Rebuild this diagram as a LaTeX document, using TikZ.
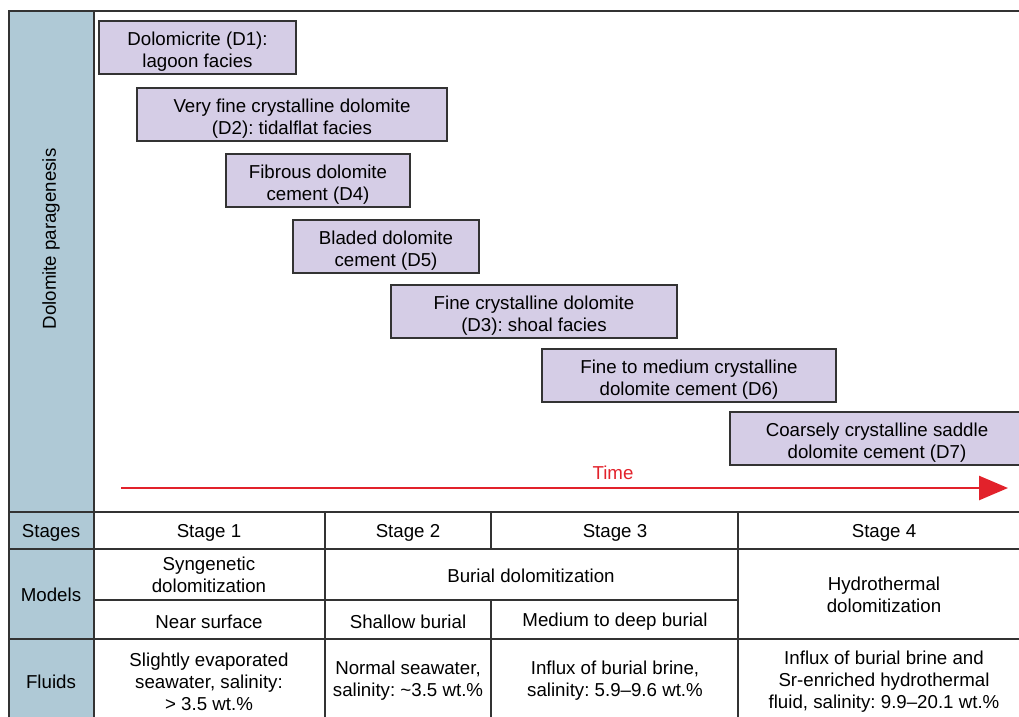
\documentclass[tikz,border=0pt]{standalone}
\usepackage{fontspec}
\setmainfont{Liberation Sans}
\frenchspacing
\usetikzlibrary{arrows.meta}
\definecolor{pbox}{HTML}{D5CDE6}
\definecolor{lblue}{HTML}{AFC9D6}
\definecolor{lgray}{HTML}{333333}
\definecolor{tred}{HTML}{E2222B}
\newcommand{\bxstrut}{\rule{0pt}{21pt}}
\tikzset{
  every node/.style={font=\fontsize{18.7}{22}\selectfont, text=black, inner sep=0pt},
  dbox/.style={draw=lgray, fill=pbox, line width=1.2pt, align=center, minimum height=53},
  cell/.style={align=center},
  grid/.style={draw=lgray, line width=1.3pt},
  frame/.style={draw=lgray, line width=2pt},
}
\begin{document}
\begin{tikzpicture}[x=1pt,y=-1pt]
\useasboundingbox (0,0) rectangle (1019,716);
\clip (0,0) rectangle (1019,716);
% left column
\fill[lblue] (9,11) rectangle (94,730);
% frame and grid
\draw[frame] (1040,11) -- (9,11) -- (9,730);
\draw[grid] (94,11) -- (94,730);
\draw[grid] (9,512) -- (1040,512);
\draw[grid] (9,549) -- (1040,549);
\draw[grid] (94,600) -- (738,600);
\draw[grid] (9,639) -- (1040,639);
\draw[grid] (325,512) -- (325,730);
\draw[grid] (491,512) -- (491,549);
\draw[grid] (491,600) -- (491,730);
\draw[grid] (738,512) -- (738,730);
% left labels
\node[rotate=90] (dp) at (51,239) {Dolomite paragenesis};
\node (stg) at (51,533) {Stages};
\node (mod) at (51,595) {Models};
\node (flu) at (51,682) {Fluids};
% dolomite boxes
\node[dbox, minimum width=197] (d1) at (197.5,47.5) {\bxstrut Dolomicrite (D1):\\lagoon facies};
\node[dbox, minimum width=310] (d2) at (292,114.5) {\bxstrut Very fine crystalline dolomite\\(D2): tidalflat facies};
\node[dbox, minimum width=184] (d4) at (318,180.5) {\bxstrut Fibrous dolomite\\cement (D4)};
\node[dbox, minimum width=186] (d5) at (386,246.5) {\bxstrut Bladed dolomite\\cement (D5)};
\node[dbox, minimum width=286] (d3) at (534,311.5) {\bxstrut Fine crystalline dolomite\\(D3): shoal facies};
\node[dbox, minimum width=294] (d6) at (689,375.5) {\bxstrut Fine to medium crystalline\\dolomite cement (D6)};
\node[dbox, minimum width=294] (d7) at (877,438.5) {\bxstrut Coarsely crystalline saddle\\dolomite cement (D7)};
% time arrow
\coordinate (ts) at (121,488);
\coordinate (te) at (1008,488);
\draw[tred, line width=2.6pt, -{Triangle[length=29pt,width=24pt]}] (ts) -- (te);
\node[text=tred] (time) at (613,473) {Time};
% stages
\node (s1) at (209,533) {Stage 1};
\node (s2) at (408,533) {Stage 2};
\node (s3) at (615,533) {Stage 3};
\node (s4) at (884,533) {Stage 4};
% models
\node[cell] (m1) at (209,575) {Syngenetic\\dolomitization};
\node (m2) at (531,576) {Burial dolomitization};
\node[cell] (m4) at (884,595) {Hydrothermal\\dolomitization};
\node (n1) at (209,622) {Near surface};
\node (n2) at (408,622) {Shallow burial};
\node (n3) at (615,622) {Medium to deep burial};
% fluids
\node[cell] (f1) at (209,682) {Slightly evaporated\\seawater, salinity:\\> 3.5 wt.\%};
\node[cell] (f2) at (408,681) {Normal seawater,\\salinity: \textasciitilde3.5 wt.\%};
\node[cell] (f3) at (615,681) {Influx of burial brine,\\salinity: 5.9–9.6 wt.\%};
\node[cell] (f4) at (884,682) {Influx of burial brine and\\Sr-enriched hydrothermal\\fluid, salinity: 9.9–20.1 wt.\%};
\end{tikzpicture}
\end{document}
